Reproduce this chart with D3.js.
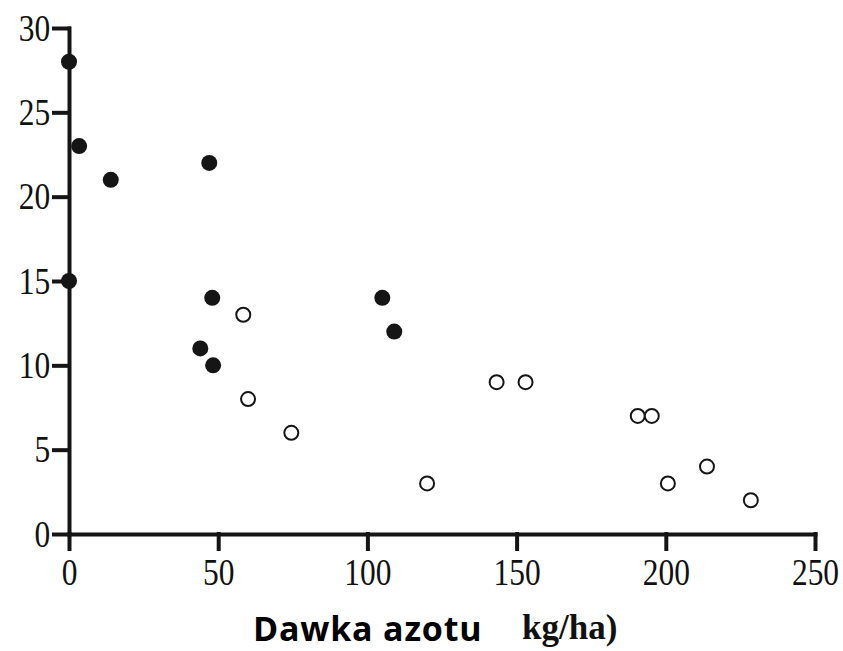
<!DOCTYPE html>
<html>
<head>
<meta charset="utf-8">
<script src="https://cdn.jsdelivr.net/npm/d3@7"></script>
<style>
  body { margin: 0; background: #fff; }
  svg { display: block; }
  .axis path, .axis line { stroke: #151515; stroke-width: 4; stroke-linecap: square; }
  .axis text { font-family: "Liberation Serif", serif; font-size: 37px; fill: #111; }
</style>
</head>
<body>
<svg width="843" height="651"></svg>
<script>
// nitrogen dose (kg/ha) vs value, two groups
const filledX = [0, 3.4, 14, 47, 0, 48, 44, 48.3, 105, 109];
const filledY = [28, 23, 21, 22, 15, 14, 11, 10, 14, 12];
const openX = [58.4, 60, 74.5, 120, 143.3, 153, 190.6, 195.3, 200.7, 213.8, 228.5];
const openY = [13, 8, 6, 3, 9, 9, 7, 7, 3, 4, 2];
const xTicks = [0, 50, 100, 150, 200, 250];
const yTicks = [0, 5, 10, 15, 20, 25, 30];

const svg = d3.select("svg");

const x = d3.scaleLinear().domain([0, 250]).range([69, 815]);
const y = d3.scaleLinear().domain([0, 30]).range([534, 28]);

// x axis
const gx = svg.append("g")
  .attr("class", "axis")
  .attr("transform", `translate(0,${y(0)})`)
  .call(d3.axisBottom(x).tickValues(xTicks).tickSize(15).tickSizeOuter(0).tickFormat(d3.format("d")));
gx.selectAll("text")
  .attr("y", 51)
  .attr("dy", null)
  .attr("transform", "scale(0.85,1)");

// y axis
const gy = svg.append("g")
  .attr("class", "axis")
  .attr("transform", `translate(${x(0)},0)`)
  .call(d3.axisLeft(y).tickValues(yTicks).tickSize(15).tickSizeOuter(0).tickFormat(d3.format("d")));
gy.selectAll("text")
  .attr("x", -22)
  .attr("dy", "0.33em")
  .attr("transform", "scale(0.85,1)");

// open circles
svg.append("g")
  .selectAll("circle")
  .data(openX.map((v, i) => [v, openY[i]]))
  .enter().append("circle")
  .attr("cx", d => x(d[0]))
  .attr("cy", d => y(d[1]))
  .attr("r", 7)
  .attr("fill", "#fff")
  .attr("stroke", "#151515")
  .attr("stroke-width", 2);

// filled circles
svg.append("g")
  .selectAll("circle")
  .data(filledX.map((v, i) => [v, filledY[i]]))
  .enter().append("circle")
  .attr("cx", d => x(d[0]))
  .attr("cy", d => y(d[1]))
  .attr("r", 8)
  .attr("fill", "#151515");

// axis title, two pieces in different fonts
svg.append("text")
  .attr("x", 253)
  .attr("y", 641)
  .attr("font-family", "'Open Sans', sans-serif")
  .attr("font-weight", "bold")
  .attr("font-size", 34)
  .attr("letter-spacing", 0.8)
  .attr("fill", "#000")
  .text("Dawka azotu");

svg.append("text")
  .attr("x", 522)
  .attr("y", 639)
  .attr("font-family", "'Liberation Serif', serif")
  .attr("font-weight", "bold")
  .attr("font-size", 35)
  .attr("fill", "#111")
  .text("kg/ha)");
</script>
</body>
</html>
